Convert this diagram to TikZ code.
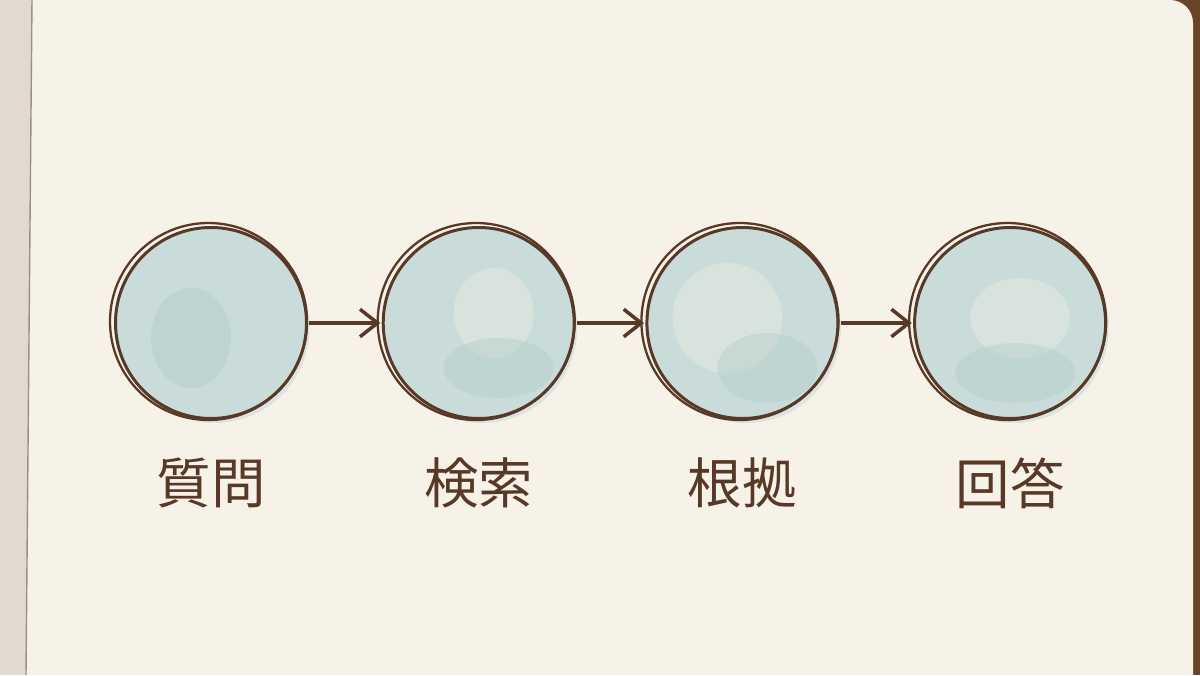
\documentclass[tikz,border=0pt]{standalone}
\usepackage{fontspec}
\newfontfamily\jpfont{Noto Sans CJK JP}
\usetikzlibrary{positioning,arrows.meta}

\definecolor{carta}{HTML}{F7F2E8}
\definecolor{margine}{HTML}{E2DACE}
\definecolor{bordo}{HTML}{9C8F82}
\definecolor{legno}{HTML}{6A4426}
\definecolor{inchiostro}{HTML}{583826}
\definecolor{acqua}{HTML}{C9DCD9}
\definecolor{acquascura}{HTML}{B5CDC9}

\tikzset{
  bolla/.style={circle, minimum size=3.92cm, inner sep=0pt},
  freccia/.style={line width=2pt, draw=inchiostro, -{Straight Barb[length=3.5mm,width=5.5mm,line width=2pt]}},
  etichetta/.style={font=\jpfont\fontsize{31}{31}\selectfont, text=inchiostro, inner sep=0pt},
}

\begin{document}
\begin{tikzpicture}[scale=1]

\useasboundingbox (0,0) rectangle (24,13.5);

% --- Foglio ---
\fill[legno] (0,0) rectangle (24,13.5);
\fill[margine] (0,0) rectangle (0.7,13.5);
\fill[carta] (0.52,0) -- (0.64,13.5) -- (23.4,13.5)
  arc[start angle=90, end angle=0, radius=0.46] -- (23.86,0) -- cycle;
\draw[bordo, thick] (0.52,0) -- (0.64,13.5);

% --- Bolle ---
\node[bolla] (shitsumon) at (4.22,7.04) {};
\node[bolla, right=1.42cm of shitsumon] (kensaku) {};
\node[bolla, right=1.34cm of kensaku] (konkyo) {};
\node[bolla, right=1.42cm of konkyo] (kaito) {};

\foreach \n in {shitsumon,kensaku,konkyo,kaito} {
  \fill[acqua, opacity=0.6] ([shift={(0.07,-0.1)}]\n.center) circle (1.9);
  \fill[acqua] (\n.center) circle (1.9);
}

% --- Macchie ---
\fill[acquascura, opacity=0.5] ([shift={(-0.4,-0.3)}]shitsumon.center) ellipse (0.8 and 1.0);
\fill[carta, opacity=0.35] ([shift={(0.3,0.2)}]kensaku.center) ellipse (0.8 and 0.9);
\fill[acquascura, opacity=0.45] ([shift={(0.4,-0.9)}]kensaku.center) ellipse (1.1 and 0.6);
\fill[carta, opacity=0.35] ([shift={(-0.3,0.1)}]konkyo.center) ellipse (1.1 and 1.1);
\fill[acquascura, opacity=0.45] ([shift={(0.5,-0.9)}]konkyo.center) ellipse (1.0 and 0.7);
\fill[carta, opacity=0.35] ([shift={(0.2,0.1)}]kaito.center) ellipse (1.0 and 0.8);
\fill[acquascura, opacity=0.45] ([shift={(0.1,-1.0)}]kaito.center) ellipse (1.2 and 0.6);

\foreach \n in {shitsumon,kensaku,konkyo,kaito} {
  \draw[inchiostro, line width=1.7pt] (\n.center) circle (1.91);
  \draw[inchiostro, line width=1.3pt] ([shift={(-0.05,0.03)}]\n.center) circle (1.97);
}

% --- Frecce ---
\draw[freccia] (shitsumon.east) -- (kensaku.west);
\draw[freccia] (kensaku.east) -- (konkyo.west);
\draw[freccia] (konkyo.east) -- (kaito.west);

% --- Etichette ---
\node[etichetta] (t1) at ([yshift=-3.2cm]shitsumon.center) {質問};
\node[etichetta] (t2) at ([yshift=-3.2cm]kensaku.center) {検索};
\node[etichetta] (t3) at ([yshift=-3.2cm]konkyo.center) {根拠};
\node[etichetta] (t4) at ([yshift=-3.2cm]kaito.center) {回答};

\end{tikzpicture}
\end{document}
